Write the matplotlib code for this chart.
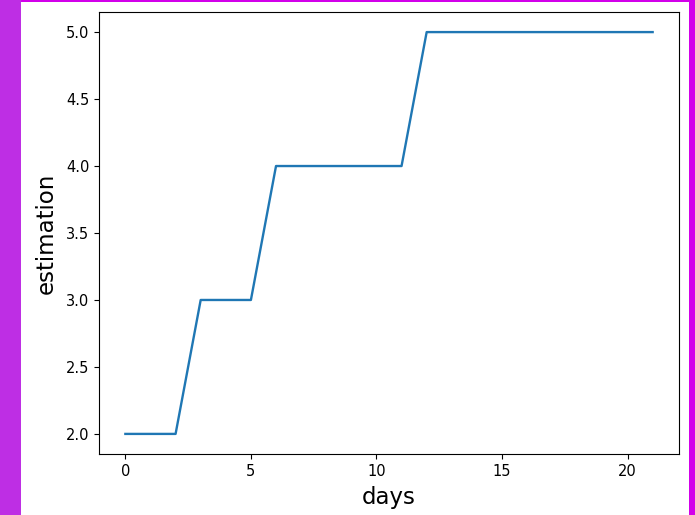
import matplotlib
matplotlib.use("Agg")
import matplotlib.pyplot as plt
from matplotlib.patches import Rectangle

days = [0, 1, 2, 3, 4, 5, 6, 7, 8, 9, 10, 11, 12, 13, 14, 15, 16, 17, 18, 19, 20, 21]
estimation = [2, 2, 2, 3, 3, 3, 4, 4, 4, 4, 4, 4, 5, 5, 5, 5, 5, 5, 5, 5, 5, 5]

fig = plt.figure(figsize=(6.95, 5.15), dpi=100)
fig.patch.set_facecolor('#d200ea')
# screenshot frame: purple strip on the left, white card behind the chart
fig.patches.append(Rectangle((0, 0), 21 / 695, 1, transform=fig.transFigure,
                             facecolor='#be2ee4', edgecolor='none', zorder=-2))
fig.patches.append(Rectangle((21 / 695, 0), 668 / 695, 513 / 515, transform=fig.transFigure,
                             facecolor='white', edgecolor='none', zorder=-1))

ax = fig.add_axes([99 / 695, 61 / 515, 580 / 695, 442 / 515])
ax.plot(days, estimation, linewidth=1.7)
ax.tick_params(labelsize=10.5)
ax.set_xlabel('days', fontsize=16.5, labelpad=5)
ax.set_ylabel('estimation', fontsize=16.5, labelpad=6)

fig.savefig('out.png', dpi=100)
